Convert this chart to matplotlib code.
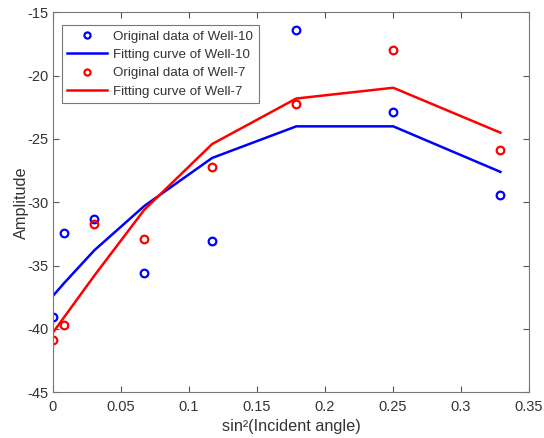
import matplotlib
matplotlib.use("Agg")
import matplotlib.pyplot as plt

plt.rcParams['font.family'] = ['Liberation Sans', 'DejaVu Sans']
plt.rcParams['axes.unicode_minus'] = False

x = [0.0, 0.0081, 0.0304, 0.0671, 0.117, 0.1789, 0.2502, 0.329]
well10_data = [-39.1, -32.4, -31.3, -35.6, -33.1, -16.4, -22.9, -29.4]
well10_fit = [-37.4, -36.4, -33.8, -30.3, -26.5, -24.0, -24.0, -27.6]
well7_data = [-40.9, -39.7, -31.7, -32.9, -27.2, -22.2, -18.0, -25.9]
well7_fit = [-40.3, -39.1, -35.8, -30.6, -25.4, -21.8, -20.95, -24.5]

xticks = [0, 0.05, 0.1, 0.15, 0.2, 0.25, 0.3, 0.35]
xticklabels = ['0', '0.05', '0.1', '0.15', '0.2', '0.25', '0.3', '0.35']
yticks = [-45, -40, -35, -30, -25, -20, -15]

fig = plt.figure(figsize=(5.44, 4.38), dpi=100)
ax = fig.add_axes([0.0974, 0.105, 0.875, 0.8665])

ax.plot(x, well10_data, 'o', color='#0000ff', markerfacecolor='none', markersize=5.5, markeredgewidth=1.6, label='Original data of Well-10')
ax.plot(x, well10_fit, '-', color='#0000ff', linewidth=1.8, label='Fitting curve of Well-10')
ax.plot(x, well7_data, 'o', color='#ff0000', markerfacecolor='none', markersize=5.5, markeredgewidth=1.6, label='Original data of Well-7')
ax.plot(x, well7_fit, '-', color='#ff0000', linewidth=1.8, label='Fitting curve of Well-7')

ax.set_xlim(0, 0.35)
ax.set_ylim(-45, -15)
ax.set_xticks(xticks)
ax.set_xticklabels(xticklabels)
ax.set_yticks(yticks)
ax.tick_params(direction='in', top=True, right=True, labelsize=10.5, length=4, color='#555555',
               labelcolor='#333333')
ax.tick_params(axis='x', pad=6)
ax.tick_params(axis='y', pad=3)
for s in ax.spines.values():
    s.set_color('#777777')
    s.set_linewidth(0.8)

ax.set_xlabel('sin\u00b2(Incident angle)', fontsize=11.7, color='#333333', labelpad=3)
ax.set_ylabel('Amplitude', fontsize=11.7, color='#333333', labelpad=-1)

leg = ax.legend(loc='upper left', bbox_to_anchor=(0.0189, 0.967), borderaxespad=0,
                fontsize=9.6, frameon=True, fancybox=False, edgecolor='#555555',
                handlelength=3.0, labelspacing=0.45, borderpad=0.4, handletextpad=0.45,
                markerscale=0.8)
leg.get_frame().set_linewidth(0.8)
for t in leg.get_texts():
    t.set_color('#333333')

fig.savefig('out.png', dpi=100)
